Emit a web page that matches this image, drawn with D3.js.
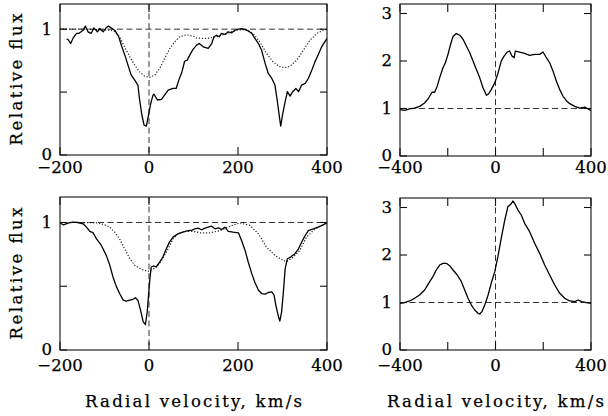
<!DOCTYPE html>
<html>
<head>
<meta charset="utf-8">
<script src="https://cdn.jsdelivr.net/npm/d3@7"></script>
<style>
  html, body { margin: 0; padding: 0; background: #fff; }
  svg text { font-family: "DejaVu Serif", serif; fill: #000; stroke: #000; stroke-width: 0.25px; }
</style>
</head>
<body>
<svg id="chart" width="608" height="416"></svg>
<script>
// ---------------- DATA ----------------
const xTicksLeft = [-200, 0, 200, 400];
const yTicksLeft = [0, 0.5, 1];
const yLabelsLeft = [0, 1];
const xTicksRight = [-400, -200, 0, 200, 400];
const xLabelsRight = [-400, 0, 400];
const yTicksRight = [0, 1, 2, 3];

// Left panels: absorption profiles [velocity km/s, relative flux]
const topLeftSolid = [
  [-185,0.92],[-182,0.918],[-176,0.886],[-171,0.926],[-163,0.966],[-158,0.966],[-148,0.992],[-143,1.024],
  [-137,0.979],[-130,0.966],[-124,1.01],[-116,0.979],[-111,1.005],[-103,0.979],[-96,1.013],[-91,1.024],
  [-83,1.005],[-76,0.987],[-68,0.94],[-61,0.86],[-53,0.78],[-46,0.70],[-40,0.635],[-32,0.595],[-25,0.556],
  [-21,0.437],[-16,0.318],[-11,0.238],[-6,0.23],[-1,0.318],[4,0.41],[9,0.476],[11,0.484],[19,0.437],
  [28,0.442],[35,0.476],[43,0.516],[54,0.529],[61,0.529],[67,0.595],[74,0.66],[80,0.745],[86,0.754],
  [91,0.79],[99,0.84],[107,0.873],[113,0.886],[122,0.86],[133,0.847],[141,0.886],[146,0.94],[152,0.952],
  [158,0.94],[163,0.966],[171,0.958],[178,0.979],[186,0.971],[193,0.992],[201,1.0],[208,1.005],[216,0.997],
  [223,0.987],[231,0.966],[238,0.926],[246,0.886],[253,0.833],[261,0.728],[268,0.648],[276,0.608],
  [283,0.556],[288,0.437],[293,0.305],[296,0.23],[300,0.318],[306,0.424],[311,0.503],[317,0.468],
  [323,0.503],[330,0.529],[336,0.503],[343,0.556],[351,0.569],[358,0.608],[366,0.675],[373,0.74],
  [380,0.794],[388,0.86],[396,0.905],[400,0.925]
];
const topLeftDotted = [
  [-200,1.0],[-150,1.0],[-100,0.995],[-85,0.99],[-77,0.979],[-66,0.94],[-55,0.86],[-43,0.78],[-32,0.714],
  [-21,0.66],[-10,0.627],[1,0.616],[13,0.635],[24,0.688],[35,0.767],[47,0.847],[58,0.9],[69,0.94],
  [84,0.955],[99,0.945],[107,0.93],[130,0.926],[152,0.94],[175,0.966],[197,0.992],[216,0.997],
  [234,0.966],[249,0.9],[264,0.807],[279,0.74],[294,0.701],[306,0.693],[317,0.706],[332,0.754],
  [347,0.833],[362,0.913],[377,0.966],[392,0.992],[400,1.0]
];
const bottomLeftSolid = [
  [-200,0.995],[-197,0.99],[-192,0.982],[-182,0.995],[-171,1.003],[-160,1.0],[-148,0.99],[-139,0.958],
  [-133,0.93],[-126,0.92],[-118,0.872],[-107,0.82],[-96,0.742],[-88,0.664],[-81,0.573],[-73,0.495],
  [-66,0.443],[-58,0.391],[-51,0.383],[-43,0.391],[-36,0.398],[-31,0.41],[-25,0.391],[-19,0.313],
  [-13,0.221],[-8,0.2],[-4,0.299],[-1,0.43],[2,0.56],[5,0.651],[11,0.659],[16,0.651],[24,0.69],
  [31,0.729],[39,0.794],[46,0.846],[54,0.885],[65,0.911],[76,0.924],[88,0.937],[97,0.94],[103,0.95],
  [110,0.956],[118,0.943],[126,0.956],[133,0.964],[141,0.971],[148,0.95],[156,0.958],[163,0.945],
  [171,0.964],[178,0.93],[189,0.924],[201,0.919],[208,0.859],[216,0.781],[223,0.69],[231,0.599],
  [238,0.529],[246,0.469],[253,0.443],[261,0.438],[268,0.451],[276,0.456],[281,0.43],[285,0.352],
  [291,0.26],[294,0.227],[298,0.299],[302,0.456],[306,0.638],[311,0.716],[318,0.729],[328,0.755],
  [336,0.794],[343,0.846],[351,0.898],[358,0.937],[369,0.95],[380,0.964],[392,0.982],[400,0.997]
];
const bottomLeftDotted = [
  [-200,1.0],[-150,1.0],[-115,0.997],[-100,0.982],[-88,0.964],[-77,0.924],[-66,0.872],[-55,0.794],
  [-43,0.716],[-32,0.664],[-17,0.633],[-2,0.617],[9,0.633],[20,0.664],[31,0.716],[43,0.794],[54,0.872],
  [65,0.911],[80,0.93],[99,0.93],[115,0.919],[137,0.919],[160,0.937],[182,0.971],[204,0.997],
  [227,0.977],[246,0.911],[264,0.807],[283,0.742],[302,0.7],[311,0.697],[324,0.729],[339,0.781],
  [354,0.885],[369,0.937],[384,0.971],[400,0.997]
];
// Right panels: emission profiles
const topRightSolid = [
  [-400,0.975],[-380,0.961],[-360,0.99],[-339,1.01],[-318,1.045],[-297,1.116],[-280,1.22],[-266,1.342],
  [-255,1.342],[-244,1.47],[-234,1.645],[-220,1.857],[-210,1.963],[-199,2.14],[-188,2.352],[-178,2.514],
  [-164,2.578],[-150,2.543],[-136,2.458],[-122,2.316],[-108,2.175],[-94,1.999],[-80,1.822],[-66,1.645],
  [-52,1.433],[-38,1.278],[-29,1.306],[-18,1.398],[-3,1.539],[10,1.737],[24,1.999],[36,2.104],
  [49,2.189],[59,2.21],[69,2.104],[78,2.069],[83,2.21],[101,2.189],[122,2.16],[143,2.118],[164,2.139],
  [185,2.139],[199,2.189],[213,2.069],[227,1.963],[241,1.786],[255,1.574],[269,1.398],[283,1.257],
  [297,1.165],[311,1.102],[332,1.045],[353,1.01],[374,1.031],[388,0.99],[400,0.954]
];
const bottomRightSolid = [
  [-400,0.982],[-380,1.0],[-360,1.032],[-339,1.088],[-318,1.158],[-297,1.263],[-280,1.404],[-262,1.544],
  [-248,1.684],[-234,1.789],[-220,1.825],[-206,1.825],[-192,1.775],[-178,1.684],[-160,1.579],
  [-143,1.439],[-129,1.263],[-115,1.088],[-101,0.947],[-87,0.842],[-73,0.772],[-66,0.758],[-57,0.807],
  [-45,0.947],[-31,1.158],[-18,1.404],[-3,1.649],[10,1.965],[24,2.351],[39,2.737],[52,3.018],
  [64,3.067],[73,3.137],[80,3.088],[94,2.947],[108,2.842],[122,2.667],[143,2.491],[164,2.246],
  [185,2.035],[206,1.789],[227,1.579],[248,1.368],[269,1.193],[290,1.088],[311,1.032],[332,1.018],
  [346,1.053],[360,1.018],[381,0.996],[400,0.982]
];

// ---------------- LAYOUT ----------------
const svg = d3.select("#chart");
const panels = [
  { x0: 60,  x1: 327, y0: 4,   y1: 155, xd: [-200, 400], yd: [0, 1.2],
    xt: xTicksLeft, xl: xTicksLeft, yt: yTicksLeft, yl: yLabelsLeft,
    solid: topLeftSolid, dotted: topLeftDotted, ylab: true, xlab: false, xlOff: 17.5 },
  { x0: 400, x1: 591, y0: 4,   y1: 156, xd: [-400, 400], yd: [0, 3.2],
    xt: xTicksRight, xl: xLabelsRight, yt: yTicksRight, yl: yTicksRight,
    solid: topRightSolid, dotted: null, ylab: false, xlab: false, xlOff: 16.5 },
  { x0: 60,  x1: 327, y0: 197, y1: 350, xd: [-200, 400], yd: [0, 1.2],
    xt: xTicksLeft, xl: xTicksLeft, yt: yTicksLeft, yl: yLabelsLeft,
    solid: bottomLeftSolid, dotted: bottomLeftDotted, ylab: true, xlab: true, xlOff: 20.5 },
  { x0: 400, x1: 591, y0: 198, y1: 350, xd: [-400, 400], yd: [0, 3.2],
    xt: xTicksRight, xl: xLabelsRight, yt: yTicksRight, yl: yTicksRight,
    solid: bottomRightSolid, dotted: null, ylab: false, xlab: true, xlOff: 20.5 }
];

const fmt = d3.format("d");

panels.forEach((p, i) => {
  const x = d3.scaleLinear().domain(p.xd).range([p.x0, p.x1]);
  const y = d3.scaleLinear().domain(p.yd).range([p.y1, p.y0]);
  const g = svg.append("g");
  const clipId = "clip" + i;
  svg.append("clipPath").attr("id", clipId).append("rect")
    .attr("x", p.x0).attr("y", p.y0).attr("width", p.x1 - p.x0).attr("height", p.y1 - p.y0);

  const plot = g.append("g").attr("clip-path", `url(#${clipId})`);

  plot.append("line")
    .attr("x1", p.x0).attr("x2", p.x1).attr("y1", y(1)).attr("y2", y(1))
    .attr("stroke", "#333").attr("stroke-width", 1).attr("stroke-dasharray", "6,3.5");
  plot.append("line")
    .attr("x1", x(0)).attr("x2", x(0)).attr("y1", p.y0).attr("y2", p.y1)
    .attr("stroke", "#333").attr("stroke-width", 1).attr("stroke-dasharray", "6,3.5");

  const line = d3.line().x(d => x(d[0])).y(d => y(d[1]));
  if (p.dotted) {
    plot.append("path").datum(p.dotted).attr("d", line)
      .attr("fill", "none").attr("stroke", "#222").attr("stroke-width", 1.2)
      .attr("stroke-dasharray", "1.2,1.8");
  }
  plot.append("path").datum(p.solid).attr("d", line)
    .attr("fill", "none").attr("stroke", "#000").attr("stroke-width", 1.3)
    .attr("stroke-linejoin", "round");

  g.append("rect").attr("x", p.x0).attr("y", p.y0)
    .attr("width", p.x1 - p.x0).attr("height", p.y1 - p.y0)
    .attr("fill", "none").attr("stroke", "#111").attr("stroke-width", 1.1);

  const tx = 8, ty = 7;
  p.xt.forEach(t => {
    g.append("line").attr("x1", x(t)).attr("x2", x(t)).attr("y1", p.y1).attr("y2", p.y1 - tx)
      .attr("stroke", "#111").attr("stroke-width", 1.1);
    g.append("line").attr("x1", x(t)).attr("x2", x(t)).attr("y1", p.y0).attr("y2", p.y0 + tx)
      .attr("stroke", "#111").attr("stroke-width", 1.1);
  });
  p.yt.forEach(t => {
    g.append("line").attr("x1", p.x0).attr("x2", p.x0 + ty).attr("y1", y(t)).attr("y2", y(t))
      .attr("stroke", "#111").attr("stroke-width", 1.1);
    g.append("line").attr("x1", p.x1).attr("x2", p.x1 - ty).attr("y1", y(t)).attr("y2", y(t))
      .attr("stroke", "#111").attr("stroke-width", 1.1);
  });

  p.xl.forEach(t => {
    g.append("text").attr("x", x(t)).attr("y", p.y1 + p.xlOff)
      .attr("text-anchor", "middle").attr("font-size", 16.5)
      .text(t < 0 ? "\u2212" + fmt(-t) : fmt(t));
  });
  p.yl.forEach(t => {
    g.append("text").attr("x", p.x0 - 8).attr("y", y(t)).attr("dy", "0.33em")
      .attr("text-anchor", "end").attr("font-size", 16.5)
      .text(fmt(t));
  });

  if (p.ylab) {
    const cy = (p.y0 + p.y1) / 2;
    g.append("text").attr("transform", `translate(22,${cy}) rotate(-90)`)
      .attr("text-anchor", "middle").attr("font-size", 16.5)
      .attr("textLength", 132).attr("lengthAdjust", "spacing")
      .text("Relative flux");
  }
  if (p.xlab) {
    const cx = (p.x0 + p.x1) / 2;
    g.append("text").attr("x", cx).attr("y", 407)
      .attr("text-anchor", "middle").attr("font-size", 16.5)
      .attr("textLength", 217).attr("lengthAdjust", "spacing")
      .text("Radial velocity, km/s");
  }
});
</script>
</body>
</html>
